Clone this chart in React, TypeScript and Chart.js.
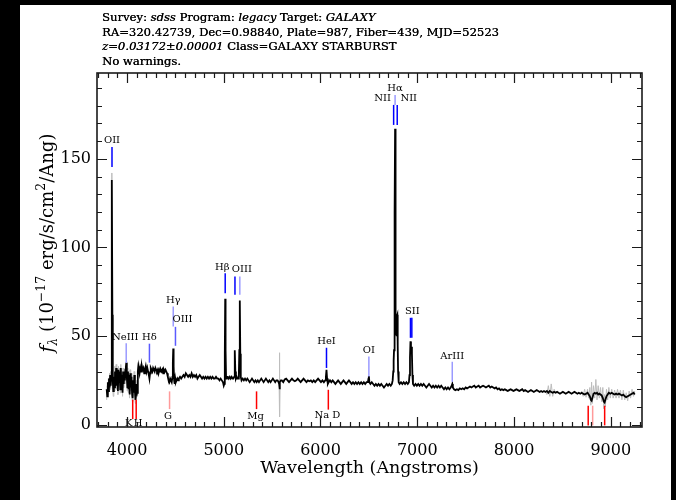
import React, { useEffect, useRef } from "react";
import { Chart, registerables } from "chart.js";

Chart.register(...registerables);

// ---------- axis ranges & ticks ----------
const X_MIN = 3690;
const X_MAX = 9323;
const Y_MIN = -1.3;
const Y_MAX = 198.4;
const X_TICKS = [4000, 5000, 6000, 7000, 8000, 9000];
const Y_TICKS = [0, 50, 100, 150];
const X_MINOR_STEP = 100;
const Y_MINOR_STEP = 10;

// ---------- header text ----------
const HEADER_LINES: [string, boolean][][] = [
  [["Survey: ", false], ["sdss", true], [" Program: ", false], ["legacy", true], [" Target: ", false], ["GALAXY", true]],
  [["RA=320.42739, Dec=0.98840, Plate=987, Fiber=439, MJD=52523", false]],
  [["z=0.03172\u00b10.00001", true], [" Class=GALAXY STARBURST", false]],
  [["No warnings.", false]],
];
const X_TITLE = "Wavelength (Angstroms)";

// ---------- spectrum (wavelength in Angstrom, flux in 1e-17 erg/s/cm2/Ang) ----------
const SPECTRUM: [number, number][] = [
  [3790, 20], [3796, 16], [3802, 24], [3808, 19], [3814, 26], [3820, 21], [3826, 28], [3832, 22], [3837, 27], [3841, 60],
  [3845, 138], [3849, 62], [3853, 25], [3858, 19], [3864, 27], [3870, 21], [3876, 30], [3882, 23], [3888, 32], [3894, 22],
  [3900, 29], [3906, 19], [3912, 31], [3918, 24], [3924, 30], [3930, 20], [3936, 32], [3942, 23], [3948, 28], [3954, 18],
  [3960, 30], [3966, 23], [3972, 29], [3978, 25], [3984, 31], [3989, 33], [3993, 35], [3998, 27], [4004, 21], [4010, 30],
  [4016, 20], [4022, 28], [4028, 17], [4034, 29], [4040, 21], [4046, 27], [4052, 18], [4058, 15], [4064, 25], [4070, 18],
  [4076, 28], [4082, 19], [4088, 14], [4094, 17], [4100, 23], [4106, 18], [4112, 30], [4118, 33], [4124, 31], [4130, 29],
  [4138, 32], [4146, 30], [4154, 33], [4162, 31], [4170, 32], [4178, 29], [4186, 31], [4194, 33], [4202, 30], [4210, 32],
  [4218, 30], [4226, 28], [4232, 26], [4238, 29], [4246, 32], [4254, 31], [4262, 30], [4270, 32], [4278, 31], [4286, 30],
  [4294, 32], [4302, 31], [4310, 30], [4318, 31], [4326, 29], [4334, 31], [4342, 30], [4350, 31], [4358, 30], [4366, 31],
  [4374, 29], [4382, 31], [4390, 30], [4398, 31], [4406, 30], [4414, 29], [4422, 27], [4430, 25], [4438, 24], [4446, 26],
  [4454, 25], [4462, 24], [4470, 27], [4474, 35], [4478, 43], [4482, 33], [4487, 25], [4493, 23], [4499, 26], [4505, 24],
  [4512, 25], [4520, 26], [4528, 25], [4536, 26], [4548, 27], [4560, 26], [4572, 27], [4584, 28], [4596, 27], [4608, 29],
  [4620, 28], [4632, 27], [4644, 28], [4656, 27], [4668, 29], [4680, 27], [4692, 28], [4704, 27], [4716, 28], [4728, 26],
  [4740, 27], [4752, 28], [4764, 27], [4776, 26], [4788, 27], [4800, 26], [4812, 27], [4824, 26], [4836, 27], [4848, 26],
  [4860, 27], [4872, 26], [4884, 27], [4896, 26], [4908, 26], [4920, 27], [4932, 26], [4944, 26], [4956, 25], [4968, 26],
  [4980, 25], [4992, 24], [5000, 22], [5006, 23], [5011, 40], [5015, 71], [5019, 42], [5024, 26], [5032, 27], [5042, 27],
  [5052, 26], [5062, 27], [5072, 26], [5082, 27], [5092, 26], [5100, 26], [5108, 27], [5112, 31], [5116, 42], [5120, 30],
  [5126, 26], [5134, 27], [5142, 26], [5150, 26], [5156, 28], [5161, 42], [5166, 70], [5171, 40], [5176, 27], [5184, 25],
  [5196, 26], [5208, 25], [5220, 26], [5232, 25], [5244, 26], [5256, 25], [5268, 24], [5280, 25], [5292, 26], [5304, 25],
  [5316, 24], [5328, 25], [5340, 24], [5352, 25], [5364, 24], [5376, 25], [5388, 26], [5400, 25], [5412, 24], [5424, 25],
  [5436, 26], [5448, 25], [5460, 24], [5472, 25], [5484, 24], [5496, 25], [5508, 26], [5520, 25], [5532, 24], [5544, 25],
  [5556, 25], [5566, 24], [5573, 23], [5577, 20], [5581, 24], [5590, 25], [5600, 25], [5615, 24], [5630, 25.5], [5645, 26],
  [5660, 25], [5675, 24], [5690, 25], [5705, 26], [5720, 25], [5735, 24.5], [5750, 25], [5765, 26], [5780, 25], [5795, 24],
  [5810, 25], [5825, 26], [5840, 25], [5855, 24], [5870, 25], [5885, 24.5], [5900, 25], [5915, 24], [5930, 25], [5945, 24],
  [5960, 25], [5975, 26], [5990, 25], [6005, 24], [6020, 25], [6035, 24], [6048, 25], [6056, 27], [6062, 31], [6068, 26],
  [6076, 23], [6085, 24], [6098, 25], [6112, 24], [6126, 25], [6140, 24], [6154, 23], [6168, 24], [6182, 25], [6196, 24],
  [6210, 23], [6224, 24], [6238, 25], [6252, 24], [6266, 23], [6280, 24], [6294, 25], [6308, 24], [6322, 23], [6336, 24],
  [6350, 23], [6364, 24], [6378, 23], [6392, 24], [6406, 23], [6420, 24], [6434, 23], [6448, 24], [6462, 23], [6476, 24],
  [6490, 24], [6496, 26], [6500, 27.5], [6505, 24], [6516, 23], [6530, 24], [6544, 23], [6558, 22], [6572, 23], [6586, 22],
  [6600, 23], [6614, 22], [6628, 23], [6642, 22], [6656, 21], [6670, 22], [6684, 23], [6698, 22], [6712, 23], [6726, 22],
  [6738, 23], [6746, 25], [6752, 30], [6756, 36], [6760, 42], [6764, 60], [6768, 120], [6771, 167], [6774, 120], [6778, 62],
  [6782, 52], [6786, 50], [6790, 61], [6794, 62], [6798, 45], [6802, 30], [6808, 24], [6818, 23], [6832, 24], [6846, 23],
  [6860, 24], [6874, 23], [6888, 24], [6902, 23], [6914, 24], [6920, 28], [6925, 38], [6930, 47], [6935, 41], [6940, 44],
  [6945, 40], [6950, 28], [6956, 23], [6968, 22], [6982, 23], [6996, 22], [7010, 23], [7024, 22], [7038, 23], [7052, 22],
  [7066, 23], [7080, 22], [7094, 21], [7108, 22], [7122, 23], [7136, 22], [7150, 21], [7164, 22], [7178, 21], [7192, 22],
  [7206, 21], [7220, 22], [7234, 21], [7248, 22], [7262, 21], [7276, 20], [7290, 21], [7304, 20], [7318, 21], [7332, 20],
  [7346, 21], [7356, 22], [7362, 23], [7368, 21], [7380, 20], [7394, 19.5], [7410, 20], [7425, 19.5], [7440, 20.5], [7455, 20],
  [7470, 20.5], [7485, 20], [7500, 21], [7515, 20.5], [7530, 21], [7545, 21.5], [7560, 21], [7575, 21.5], [7590, 22], [7605, 21],
  [7620, 21.5], [7635, 22], [7650, 21], [7665, 21.5], [7680, 22], [7695, 21.5], [7710, 21], [7725, 21.5], [7740, 22], [7755, 21],
  [7770, 21.5], [7785, 21], [7800, 20.5], [7815, 21], [7830, 20], [7845, 20.5], [7860, 19.5], [7875, 20], [7890, 19.5], [7905, 20],
  [7920, 19.5], [7935, 19], [7950, 19.5], [7965, 20], [7980, 19.5], [7995, 19], [8010, 19.5], [8025, 20], [8040, 19.5], [8055, 19],
  [8070, 19.5], [8085, 20], [8100, 19], [8115, 19.5], [8130, 19], [8145, 18.5], [8160, 19], [8175, 19.5], [8190, 19], [8205, 18.5],
  [8220, 19], [8235, 19.5], [8250, 19], [8265, 18.5], [8280, 19], [8295, 18.5], [8310, 19], [8325, 18.5], [8340, 19], [8355, 18],
  [8370, 19], [8385, 18.5], [8400, 18], [8415, 18.5], [8430, 18], [8445, 18.5], [8460, 18], [8475, 17.5], [8490, 18], [8505, 18.5],
  [8520, 18], [8535, 17.5], [8550, 18], [8565, 18.5], [8580, 18], [8595, 17.5], [8610, 18], [8625, 18.5], [8640, 18], [8655, 17.5],
  [8670, 18], [8685, 17.5], [8700, 18], [8715, 17.5], [8730, 17], [8745, 17.5], [8760, 18], [8772, 17], [8784, 16], [8794, 14],
  [8802, 13.5], [8810, 15], [8822, 17.5], [8834, 18], [8846, 17.5], [8858, 18], [8870, 17], [8882, 17.5], [8894, 17], [8906, 16.5],
  [8918, 15], [8928, 13], [8936, 12.5], [8944, 14], [8956, 16], [8968, 17], [8980, 18], [8995, 17.5], [9010, 18], [9025, 17.5],
  [9040, 17], [9055, 17.5], [9070, 17], [9085, 17.5], [9100, 17], [9115, 16.5], [9130, 17], [9145, 16], [9160, 15.5], [9175, 16],
  [9190, 16.5], [9205, 17], [9220, 17.5], [9235, 18], [9248, 17],
];

// grey (noisier, unsmoothed) spectrum where it shows around the black one
const GREY_BLUE: [number, number][] = [
  [3790, 14], [3796, 22], [3802, 17], [3808, 26], [3814, 21], [3820, 29], [3826, 20], [3832, 30], [3838, 25], [3842, 60],
  [3845, 142], [3848, 60], [3852, 22], [3858, 16], [3864, 29], [3870, 19], [3876, 33], [3882, 21], [3888, 34], [3894, 20],
  [3900, 31], [3906, 17], [3912, 33], [3918, 22], [3924, 32], [3930, 18], [3936, 34], [3942, 21], [3948, 30], [3954, 16],
  [3960, 32], [3966, 21], [3972, 31], [3978, 23], [3984, 33], [3990, 29], [3996, 36], [4002, 19], [4008, 32], [4014, 18],
  [4020, 30], [4026, 15], [4032, 31], [4038, 19], [4044, 29], [4050, 16], [4056, 13], [4062, 27], [4068, 16], [4074, 30],
  [4080, 17], [4086, 12], [4092, 15], [4098, 25], [4104, 16], [4110, 32], [4116, 35], [4122, 30],
];
const GREY_SKY: [number, number][] = [
  [5566, 24], [5572, 25], [5576, 40.6], [5578, 4.5], [5582, 25], [5590, 24],
];
const GREY_MID: [number, number][] = [
  [8325, 19], [8340, 17], [8355, 22], [8370, 16], [8385, 23], [8400, 16], [8415, 20], [8430, 18],
];
const GREY_RED: [number, number][] = [
  [8700, 19], [8715, 16], [8730, 20], [8745, 15.5], [8760, 20], [8772, 15], [8784, 21], [8794, 11], [8802, 24], [8810, 12],
  [8822, 22], [8834, 15], [8846, 25.5], [8858, 14], [8870, 22], [8882, 15], [8894, 21], [8906, 13], [8918, 21], [8928, 9],
  [8936, 17], [8944, 10], [8956, 20], [8968, 14], [8980, 21], [8995, 15], [9010, 20], [9025, 15], [9040, 19.5], [9055, 15],
  [9070, 20], [9085, 15], [9100, 19.5], [9115, 14], [9130, 19.5], [9145, 14], [9160, 18], [9175, 13.5], [9190, 19], [9205, 15],
  [9220, 20], [9235, 16], [9248, 19],
];

// ---------- line identifications ----------
const EMISSION_NAMES = ["OII", "NeIII", "H\u03b4", "H\u03b3", "OIII", "H\u03b2", "", "OIII", "HeI", "OI", "NII", "H\u03b1", "NII", "", "SII", "ArIII"];
const EMISSION_WAVES = [3845, 3992, 4232, 4478, 4501, 5015, 5116, 5166, 6062, 6500, 6756, 6771, 6793, 6930, 6944, 7362];
const ABSORPTION_NAMES = ["K", "H", "G", "Mg", "Na D", "", "", ""];
const ABSORPTION_WAVES = [4059, 4095, 4440, 5339, 6081, 8767, 8813, 8937];

// ---------- marker layout (flux range of tick, flux of label, label x offset px, colour) ----------
const BLUE = "#0000ff";
const MID_BLUE = "#5a5aff";
const LIGHT_BLUE = "#9a9aff";
const RED = "#ff0000";
const LIGHT_RED = "#ff9a9a";
const EMISSION_LAYOUT: { lo: number; hi: number; ty: number; dx: number; c: string }[] = [
  { lo: 145.4, hi: 156.7, ty: 160.1, dx: 0, c: BLUE },
  { lo: 34.8, hi: 46.0, ty: 49.2, dx: -1, c: LIGHT_BLUE },
  { lo: 35.0, hi: 45.7, ty: 49.2, dx: 0, c: MID_BLUE },
  { lo: 55.4, hi: 66.7, ty: 69.9, dx: 0, c: LIGHT_BLUE },
  { lo: 44.5, hi: 55.2, ty: 59.6, dx: 7, c: MID_BLUE },
  { lo: 74.2, hi: 85.5, ty: 88.5, dx: -3, c: BLUE },
  { lo: 73.3, hi: 83.6, ty: 87.4, dx: 0, c: BLUE },
  { lo: 73.3, hi: 83.6, ty: 87.4, dx: 2, c: LIGHT_BLUE },
  { lo: 32.0, hi: 43.4, ty: 47.0, dx: 0, c: BLUE },
  { lo: 27.2, hi: 38.5, ty: 41.7, dx: 0, c: LIGHT_BLUE },
  { lo: 169.1, hi: 180.4, ty: 183.8, dx: -11, c: BLUE },
  { lo: 180.4, hi: 186.0, ty: 189.9, dx: 0, c: LIGHT_BLUE },
  { lo: 169.1, hi: 180.4, ty: 183.8, dx: 11.5, c: BLUE },
  { lo: 49.0, hi: 60.3, ty: 63.9, dx: 0, c: BLUE },
  { lo: 49.0, hi: 60.3, ty: 63.9, dx: 0.5, c: BLUE },
  { lo: 24.2, hi: 35.5, ty: 38.5, dx: 0, c: LIGHT_BLUE },
];
const ABSORPTION_LAYOUT: { lo: number; hi: number; ty: number; dx: number; c: string }[] = [
  { lo: 3.2, hi: 14.1, ty: 0.6, dx: -4, c: RED },
  { lo: 3.2, hi: 14.1, ty: 0.6, dx: 2, c: RED },
  { lo: 8.8, hi: 18.8, ty: 4.7, dx: -1.5, c: LIGHT_RED },
  { lo: 8.8, hi: 18.8, ty: 4.5, dx: -1, c: RED },
  { lo: 8.5, hi: 19.7, ty: 5.1, dx: -1, c: RED },
  { lo: -0.4, hi: 10.7, ty: 0, dx: 0, c: RED },
  { lo: -0.4, hi: 10.7, ty: 0, dx: 0, c: LIGHT_RED },
  { lo: -0.4, hi: 10.7, ty: 0, dx: 0, c: RED },
];

const W = 676;
const H = 500;
const SERIF = "'DejaVu Serif', 'Liberation Serif', serif";

const toXY = (arr: [number, number][]) => arr.map(([x, y]) => ({ x, y }));

const decorPlugin = {
  id: "sdssDecor",
  beforeDraw(chart: any) {
    const ctx = chart.ctx;
    ctx.save();
    ctx.fillStyle = "#000";
    ctx.fillRect(0, 0, W, H);
    ctx.fillStyle = "#fff";
    ctx.fillRect(20, 5, 651, 495);
    ctx.restore();
  },
  afterDatasetsDraw(chart: any) {
    const ctx = chart.ctx;
    const xs = chart.scales.x;
    const ys = chart.scales.y;
    ctx.save();
    ctx.font = `10px ${SERIF}`;
    ctx.textAlign = "center";
    ctx.textBaseline = "middle";
    const drawMark = (wave: number, name: string, m: any) => {
      const px = xs.getPixelForValue(wave);
      ctx.strokeStyle = m.c;
      ctx.lineWidth = 1.5;
      ctx.beginPath();
      ctx.moveTo(px, ys.getPixelForValue(m.lo));
      ctx.lineTo(px, ys.getPixelForValue(m.hi));
      ctx.stroke();
      if (name) {
        ctx.fillStyle = "#000";
        ctx.fillText(name, px + m.dx, ys.getPixelForValue(m.ty));
      }
    };
    EMISSION_WAVES.forEach((w, i) => drawMark(w, EMISSION_NAMES[i], EMISSION_LAYOUT[i]));
    ABSORPTION_WAVES.forEach((w, i) => drawMark(w, ABSORPTION_NAMES[i], ABSORPTION_LAYOUT[i]));
    ctx.restore();
  },
  afterDraw(chart: any) {
    const ctx = chart.ctx;
    const xs = chart.scales.x;
    const ys = chart.scales.y;
    const { left, right, top, bottom } = chart.chartArea;
    ctx.save();
    // axis frame
    ctx.strokeStyle = "#1a1a1a";
    ctx.lineWidth = 1.6;
    ctx.strokeRect(left, top, right - left, bottom - top);
    // ticks (inward, all four sides)
    ctx.lineWidth = 1.2;
    ctx.beginPath();
    for (let v = Math.ceil(X_MIN / X_MINOR_STEP) * X_MINOR_STEP; v <= X_MAX; v += X_MINOR_STEP) {
      const px = Math.round(xs.getPixelForValue(v)) + 0.5;
      const len = X_TICKS.includes(v) ? 10 : 5;
      ctx.moveTo(px, bottom);
      ctx.lineTo(px, bottom - len);
      ctx.moveTo(px, top);
      ctx.lineTo(px, top + len);
    }
    for (let v = 0; v <= Y_MAX; v += Y_MINOR_STEP) {
      const py = Math.round(ys.getPixelForValue(v)) + 0.5;
      const len = Y_TICKS.includes(v) ? 10 : 5;
      ctx.moveTo(left, py);
      ctx.lineTo(left + len, py);
      ctx.moveTo(right, py);
      ctx.lineTo(right - len, py);
    }
    ctx.stroke();

    // header
    ctx.fillStyle = "#000";
    ctx.textBaseline = "alphabetic";
    ctx.textAlign = "left";
    HEADER_LINES.forEach((segs, i) => {
      let x = 102;
      const y = 21 + i * 14.7;
      segs.forEach(([t, it]) => {
        ctx.font = `${it ? "italic " : ""}11.6px ${SERIF}`;
        ctx.fillText(t, x, y);
        ctx.fillText(t, x + 0.3, y);
        x += ctx.measureText(t).width;
      });
    });

    // x title
    ctx.font = `17.5px ${SERIF}`;
    ctx.textAlign = "center";
    ctx.textBaseline = "middle";
    ctx.fillText(X_TITLE, (left + right) / 2, 468);

    // y title (rotated, with sub/superscripts)
    const parts: { t: string; f: string; dy: number }[] = [
      { t: "f", f: `italic 19px ${SERIF}`, dy: 0 },
      { t: "\u03bb", f: `italic 12px ${SERIF}`, dy: 4 },
      { t: " (10", f: `18px ${SERIF}`, dy: 0 },
      { t: "\u221217", f: `12.5px ${SERIF}`, dy: -8 },
      { t: " erg/s/cm", f: `18px ${SERIF}`, dy: 0 },
      { t: "2", f: `12.5px ${SERIF}`, dy: -8 },
      { t: "/Ang)", f: `18px ${SERIF}`, dy: 0 },
    ];
    ctx.textAlign = "left";
    ctx.textBaseline = "alphabetic";
    let total = 0;
    parts.forEach((p) => {
      ctx.font = p.f;
      total += ctx.measureText(p.t).width;
    });
    ctx.translate(53, 243);
    ctx.rotate(-Math.PI / 2);
    let cx = -total / 2;
    parts.forEach((p) => {
      ctx.font = p.f;
      ctx.fillText(p.t, cx, p.dy);
      cx += ctx.measureText(p.t).width;
    });
    ctx.restore();
  },
};

export default function App() {
  const ref = useRef<HTMLCanvasElement | null>(null);
  useEffect(() => {
    if (!ref.current) return;
    const greyStyle = {
      borderColor: "#bdbdbd",
      borderWidth: 1,
      pointRadius: 0,
      tension: 0,
      fill: false,
      order: 2,
    };
    const chart = new Chart(ref.current, {
      type: "line",
      data: {
        datasets: [
          {
            label: "flux",
            data: toXY(SPECTRUM),
            borderColor: "#000",
            borderWidth: 1.8,
            pointRadius: 0,
            tension: 0,
            fill: false,
            order: 1,
          },
          { label: "grey-blue", data: toXY(GREY_BLUE), ...greyStyle },
          { label: "grey-sky", data: toXY(GREY_SKY), ...greyStyle },
          { label: "grey-mid", data: toXY(GREY_MID), ...greyStyle },
          { label: "grey-red", data: toXY(GREY_RED), ...greyStyle },
        ],
      },
      options: {
        animation: false,
        responsive: false,
        maintainAspectRatio: false,
        devicePixelRatio: 1,
        layout: { padding: { left: 0, top: 73, right: 34, bottom: 0 } },
        plugins: { legend: { display: false }, tooltip: { enabled: false } },
        scales: {
          x: {
            type: "linear",
            min: X_MIN,
            max: X_MAX,
            grid: { display: false, drawTicks: false },
            border: { display: false },
            afterBuildTicks: (s: any) => {
              s.ticks = X_TICKS.map((v) => ({ value: v }));
            },
            afterFit: (s: any) => {
              s.height = 73;
            },
            ticks: {
              color: "#000",
              font: { family: SERIF, size: 16 },
              padding: 14,
              maxRotation: 0,
              autoSkip: false,
              callback: (v: any) => String(v),
            },
          },
          y: {
            type: "linear",
            min: Y_MIN,
            max: Y_MAX,
            grid: { display: false, drawTicks: false },
            border: { display: false },
            afterBuildTicks: (s: any) => {
              s.ticks = Y_TICKS.map((v) => ({ value: v }));
            },
            afterFit: (s: any) => {
              s.width = 97;
            },
            ticks: {
              color: "#000",
              font: { family: SERIF, size: 16 },
              padding: 6,
              autoSkip: false,
              callback: (v: any) => String(v),
            },
          },
        },
      },
      plugins: [decorPlugin],
    } as any);
    return () => chart.destroy();
  }, []);
  return (
    <div style={{ position: "absolute", left: 0, top: 0, width: W, height: H }}>
      <canvas ref={ref} width={W} height={H} style={{ display: "block", width: W, height: H }} />
    </div>
  );
}
